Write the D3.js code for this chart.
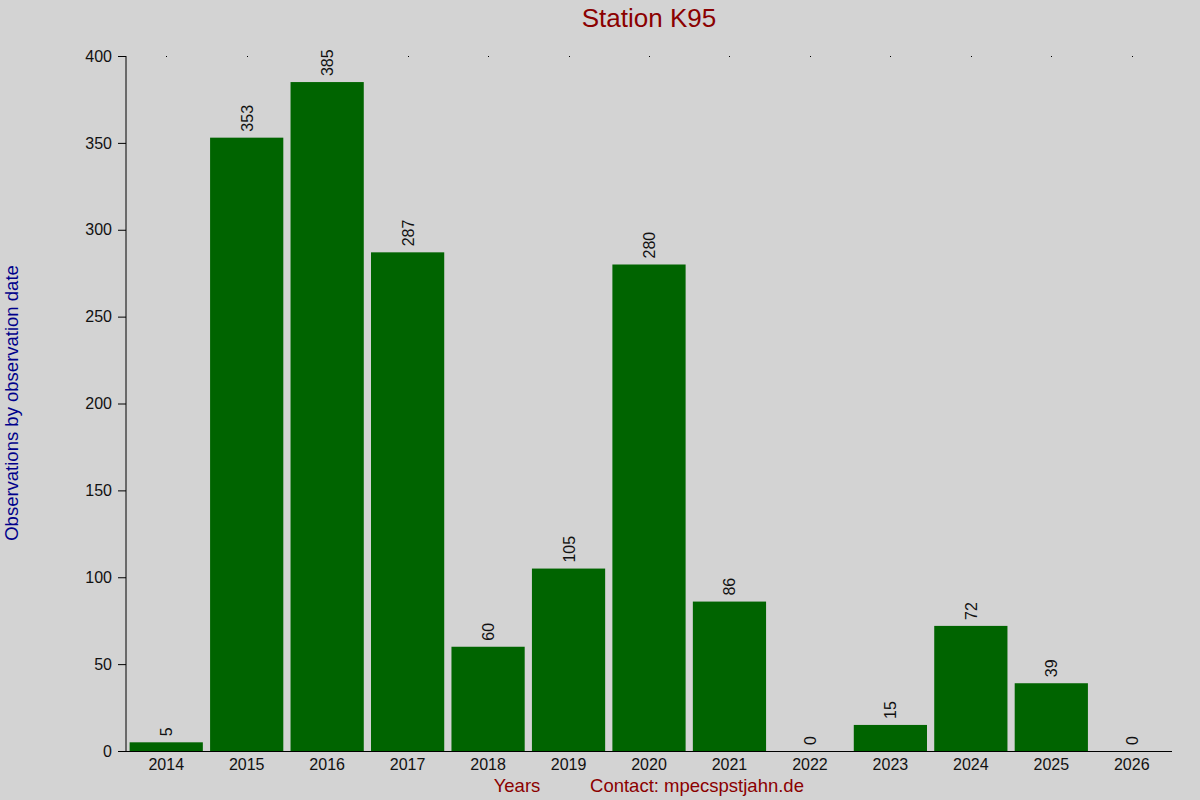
<!DOCTYPE html>
<html>
<head>
<meta charset="utf-8">
<script src="https://cdn.jsdelivr.net/npm/d3@7"></script>
<style>
  body { margin: 0; background: #d3d3d3; }
  svg { display: block; font-family: "Liberation Sans", Arial, sans-serif; }
</style>
</head>
<body>
<script>
const years = ["2014", "2015", "2016", "2017", "2018", "2019", "2020",
  "2021", "2022", "2023", "2024", "2025", "2026"];
const counts = [5, 353, 385, 287, 60, 105, 280, 86, 0, 15, 72, 39, 0];
const yTicks = [0, 50, 100, 150, 200, 250, 300, 350, 400];

const width = 1200;
const height = 800;
const margin = { top: 56, right: 28, bottom: 49, left: 126 };
const font = "Liberation Sans, Arial, sans-serif";

const svg = d3.select("body")
  .append("svg")
  .attr("width", width)
  .attr("height", height);

svg.append("rect")
  .attr("width", width)
  .attr("height", height)
  .attr("fill", "#d3d3d3");

const x = d3.scaleBand()
  .domain(years)
  .range([margin.left, width - margin.right])
  .paddingInner(0.09)
  .paddingOuter(0.045);

const y = d3.scaleLinear()
  .domain([0, 400])
  .range([height - margin.bottom, margin.top]);

// bars
svg.append("g")
  .selectAll("rect")
  .data(years)
  .join("rect")
  .attr("x", d => x(d))
  .attr("y", (d, i) => y(counts[i]))
  .attr("width", x.bandwidth())
  .attr("height", (d, i) => y(0) - y(counts[i]))
  .attr("fill", "#006400");

// value labels
svg.append("g")
  .selectAll("text")
  .data(years)
  .join("text")
  .attr("transform", (d, i) =>
    `translate(${x(d) + x.bandwidth() / 2 + 6},${y(counts[i]) - 6}) rotate(-90)`)
  .attr("font-size", 16)
  .attr("fill", "#111")
  .text((d, i) => counts[i]);

// y axis
const yAxis = svg.append("g")
  .attr("transform", `translate(${margin.left},0)`)
  .call(d3.axisLeft(y).tickValues(yTicks).tickSize(8).tickPadding(6));
yAxis.attr("font-size", 16).attr("font-family", font);
yAxis.selectAll("text").attr("fill", "#111");
yAxis.select(".domain").attr("d", `M0,${y(400)}V${y(0)}`);

// x axis
const xAxis = svg.append("g")
  .attr("transform", `translate(0,${y(0)})`)
  .call(d3.axisBottom(x).tickSize(0).tickPadding(8));
xAxis.attr("font-size", 16).attr("font-family", font);
xAxis.selectAll("text").attr("fill", "#111");
xAxis.select(".domain")
  .attr("d", `M${margin.left - 8},0.5H${width - margin.right}`);

// small marks along the top
svg.append("g")
  .selectAll("rect")
  .data(years)
  .join("rect")
  .attr("x", d => Math.round(x(d) + x.bandwidth() / 2))
  .attr("y", y(400))
  .attr("width", 1)
  .attr("height", 1)
  .attr("fill", "#000");

// title
svg.append("text")
  .attr("x", 649)
  .attr("y", 27)
  .attr("text-anchor", "middle")
  .attr("font-size", 26)
  .attr("fill", "#8b0000")
  .text("Station K95");

// y label
svg.append("text")
  .attr("transform", `translate(18,${403}) rotate(-90)`)
  .attr("text-anchor", "middle")
  .attr("font-size", 18.5)
  .attr("fill", "#00008b")
  .text("Observations by observation date");

// x labels
svg.append("text")
  .attr("x", 517)
  .attr("y", 792)
  .attr("text-anchor", "middle")
  .attr("font-size", 18.5)
  .attr("fill", "#8b0000")
  .text("Years");

svg.append("text")
  .attr("x", 697)
  .attr("y", 792)
  .attr("text-anchor", "middle")
  .attr("font-size", 18.5)
  .attr("fill", "#8b0000")
  .text("Contact: mpecspstjahn.de");
</script>
</body>
</html>
